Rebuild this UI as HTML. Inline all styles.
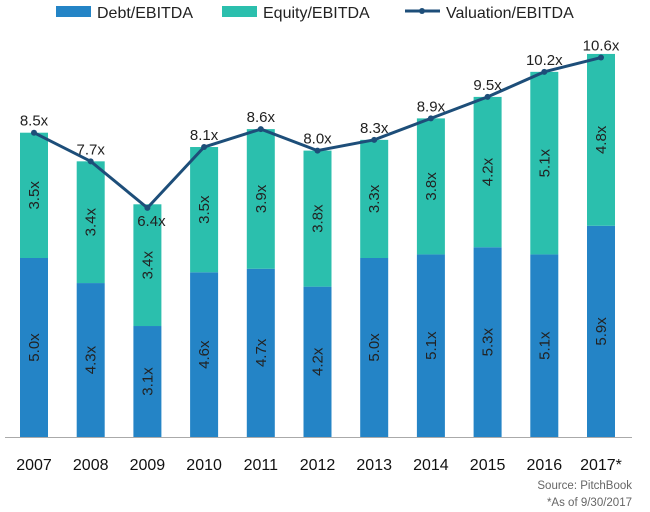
<!DOCTYPE html>
<html><head><meta charset="utf-8"><style>
body{margin:0;background:#fff;width:650px;height:507px;overflow:hidden;font-family:"Liberation Sans",sans-serif}
</style></head><body>
<svg width="650" height="507">
<g font-size="16" fill="#222">
<rect x="56" y="6" width="35" height="11" fill="#2484c6"/>
<text x="97" y="18">Debt/EBITDA</text>
<rect x="222" y="6" width="35" height="11" fill="#2bbfad"/>
<text x="263" y="18">Equity/EBITDA</text>
<line x1="405" y1="11" x2="440" y2="11" stroke="#1d4e79" stroke-width="3"/>
<circle cx="422" cy="11" r="3" fill="#1d4e79"/>
<text x="446" y="18">Valuation/EBITDA</text>
</g>
<g id="plot"></g>
<line x1="5" y1="437.5" x2="632" y2="437.5" stroke="#aaa" stroke-width="1"/>
<text x="632" y="489" text-anchor="end" font-size="11.5" fill="#666">Source: PitchBook</text>
<text x="632" y="506" text-anchor="end" font-size="11.5" fill="#666">*As of 9/30/2017</text>
</svg>
<script>
const categories=["2007","2008","2009","2010","2011","2012","2013","2014","2015","2016","2017*"];
const debt=[5.0,4.3,3.1,4.6,4.7,4.2,5.0,5.1,5.3,5.1,5.9];
const equity=[3.5,3.4,3.4,3.5,3.9,3.8,3.3,3.8,4.2,5.1,4.8];
const valuation=[8.5,7.7,6.4,8.1,8.6,8.0,8.3,8.9,9.5,10.2,10.6];
const NS="http://www.w3.org/2000/svg";
const g=document.getElementById('plot');
const x=i=>34+i*56.7;
const y=v=>437-v*35.8;
const bw=28;
function mk(t,a){const e=document.createElementNS(NS,t);for(const k in a)e.setAttribute(k,a[k]);g.appendChild(e);return e;}
let pts=[];
categories.forEach((c,i)=>{
 const cx=x(i);
 const d=mk('rect',{x:cx-bw/2,y:y(debt[i]),width:bw,height:y(0)-y(debt[i]),fill:'#2484c6'});
 
 
 const top=debt[i]+equity[i];
 const e=mk('rect',{x:cx-bw/2,y:y(top),width:bw,height:y(debt[i])-y(top),fill:'#2bbfad'});
 
 
 const dm=(y(0)+y(debt[i]))/2;
 const t1=mk('text',{x:cx+5,y:dm,'text-anchor':'middle','font-size':15,fill:'#222',transform:`rotate(-90 ${cx+5} ${dm})`});
 t1.textContent=debt[i].toFixed(1)+'x';
 
 
 const em=(y(debt[i])+y(top))/2;
 const t2=mk('text',{x:cx+5,y:em,'text-anchor':'middle','font-size':15,fill:'#222',transform:`rotate(-90 ${cx+5} ${em})`});
 t2.textContent=equity[i].toFixed(1)+'x';
 
 
 const lb=mk('text',{x:cx,y:470,'text-anchor':'middle','font-size':16,fill:'#111'});
 lb.textContent=c;
 
 
 pts.push(cx+','+y(valuation[i]));
});
const pl=mk('polyline',{points:pts.join(' '),fill:'none',stroke:'#1d4e79','stroke-width':3});


const minV=Math.min(...valuation);
valuation.forEach((v,i)=>{
 const p=mk('circle',{cx:x(i),cy:y(v),r:3,fill:'#1d4e79'});
 
 
 const below=v===minV;
 const t=mk('text',{x:x(i)+(below?4:0),y:below?y(v)+18:y(v)-7,'text-anchor':'middle','font-size':15,fill:'#222'});
 t.textContent=v.toFixed(1)+'x';
 
 
});
</script>
</body></html>
